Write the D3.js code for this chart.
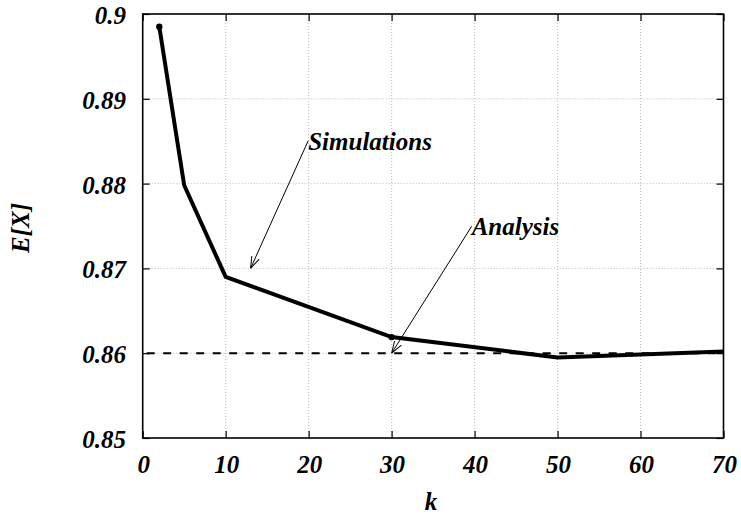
<!DOCTYPE html>
<html>
<head>
<meta charset="utf-8">
<script src="https://cdn.jsdelivr.net/npm/d3@7"></script>
</head>
<body style="margin:0;background:#fff">
<script>
const kValues = [2, 5, 10, 30, 50, 70];
const simValues = [0.8985, 0.8798, 0.8690, 0.8619, 0.8595, 0.8602];
const markedK = [2, 30];
const analysisValue = 0.86;
const xTicks = [0, 10, 20, 30, 40, 50, 60, 70];
const yTicks = [0.85, 0.86, 0.87, 0.88, 0.89, 0.9];
const yTickLabels = ['0.85', '0.86', '0.87', '0.88', '0.89', '0.9'];
// annotations: [label, textK, textY, arrowK, arrowY]
const notes = [
  ['Simulations', 19.95, 0.8840, 13, 0.870],
  ['Analysis', 39.65, 0.8739, 30, 0.860]
];

const width = 741;
const height = 518;

const x = d3.scaleLinear().domain([0, 70]).range([142.7, 723.5]);
const y = d3.scaleLinear().domain([0.85, 0.9]).range([438, 14]);

const svg = d3.select('body').append('svg')
    .attr('width', width)
    .attr('height', height);

svg.append('defs').append('marker')
    .attr('id', 'arrow')
    .attr('viewBox', '0 0 12 10')
    .attr('refX', 12)
    .attr('refY', 5)
    .attr('markerWidth', 12)
    .attr('markerHeight', 10)
    .attr('markerUnits', 'userSpaceOnUse')
    .attr('orient', 'auto')
    .append('path')
    .attr('d', 'M0,1 L12,5 L0,9')
    .attr('fill', 'none')
    .attr('stroke', '#000')
    .attr('stroke-width', 1);

// grid
const grid = svg.append('g');
xTicks.slice(1, -1).forEach(t => {
  grid.append('line')
      .attr('x1', x(t)).attr('x2', x(t))
      .attr('y1', y(0.85)).attr('y2', y(0.9))
      .attr('stroke', '#bbb')
      .attr('stroke-dasharray', '1,2');
});
yTicks.slice(1, -1).forEach(t => {
  grid.append('line')
      .attr('x1', x(0)).attr('x2', x(70))
      .attr('y1', y(t)).attr('y2', y(t))
      .attr('stroke', '#bbb')
      .attr('stroke-dasharray', '1,2');
});

// axes with inward ticks on all sides
const tickLen = 7;
svg.append('g')
    .attr('transform', `translate(0,${y(0.85)})`)
    .call(d3.axisTop(x).tickValues(xTicks).tickSize(tickLen).tickFormat(''))
    .call(g => g.select('.domain').remove());
svg.append('g')
    .attr('transform', `translate(0,${y(0.9)})`)
    .call(d3.axisBottom(x).tickValues(xTicks).tickSize(tickLen).tickFormat(''))
    .call(g => g.select('.domain').remove());
svg.append('g')
    .attr('transform', `translate(${x(0)},0)`)
    .call(d3.axisRight(y).tickValues(yTicks).tickSize(tickLen).tickFormat(''))
    .call(g => g.select('.domain').remove());
svg.append('g')
    .attr('transform', `translate(${x(70)},0)`)
    .call(d3.axisLeft(y).tickValues(yTicks).tickSize(tickLen).tickFormat(''))
    .call(g => g.select('.domain').remove());
svg.selectAll('.tick line').attr('stroke', '#000').attr('stroke-width', 1.2);

svg.append('rect')
    .attr('x', x(0)).attr('y', y(0.9))
    .attr('width', x(70) - x(0)).attr('height', y(0.85) - y(0.9))
    .attr('fill', 'none')
    .attr('stroke', '#000')
    .attr('stroke-width', 1.6);

const texts = svg.append('g');

// tick labels
texts.append('g').selectAll('text')
    .data(xTicks)
    .join('text')
    .attr('x', d => x(d) + 1)
    .attr('y', 473)
    .attr('text-anchor', 'middle')
    .text(d => d);

texts.append('g').selectAll('text')
    .data(yTicks)
    .join('text')
    .attr('x', 126)
    .attr('y', d => y(d) + 10)
    .attr('text-anchor', 'end')
    .text((d, i) => yTickLabels[i]);

// axis titles
texts.append('text')
    .attr('x', 431)
    .attr('y', 510)
    .attr('text-anchor', 'middle')
    .text('k');

texts.append('text')
    .attr('transform', 'translate(29,228) rotate(-90)')
    .attr('text-anchor', 'middle')
    .text('E[X]');

// analysis (dashed)
svg.append('line')
    .attr('x1', x(0)).attr('x2', x(70))
    .attr('y1', y(analysisValue)).attr('y2', y(analysisValue))
    .attr('stroke', '#000')
    .attr('stroke-width', 2)
    .attr('stroke-dasharray', '8,8.5')
    .attr('stroke-dashoffset', -4);

// simulations
const simData = kValues.map((k, i) => [k, simValues[i]]);
svg.append('path')
    .datum(simData)
    .attr('d', d3.line().x(d => x(d[0])).y(d => y(d[1])))
    .attr('fill', 'none')
    .attr('stroke', '#000')
    .attr('stroke-width', 4)
    .attr('stroke-linejoin', 'miter');

svg.append('g').selectAll('circle')
    .data(simData.filter(d => markedK.includes(d[0])))
    .join('circle')
    .attr('cx', d => x(d[0]))
    .attr('cy', d => y(d[1]))
    .attr('r', 3.2)
    .attr('fill', '#000');

// annotations
notes.forEach(([label, tk, tv, ak, av]) => {
  svg.append('line')
      .attr('x1', x(tk)).attr('y1', y(tv) - 9)
      .attr('x2', x(ak)).attr('y2', y(av))
      .attr('stroke', '#000')
      .attr('stroke-width', 1)
      .attr('marker-end', 'url(#arrow)');
  texts.append('text')
      .attr('x', x(tk))
      .attr('y', y(tv))
      .text(label);
});

svg.selectAll('text')
    .style('font-family', "'Liberation Serif'")
    .style('font-weight', 'bold')
    .style('font-style', 'italic')
    .style('font-size', '25px')
    .attr('fill', '#000');
</script>
</body>
</html>
